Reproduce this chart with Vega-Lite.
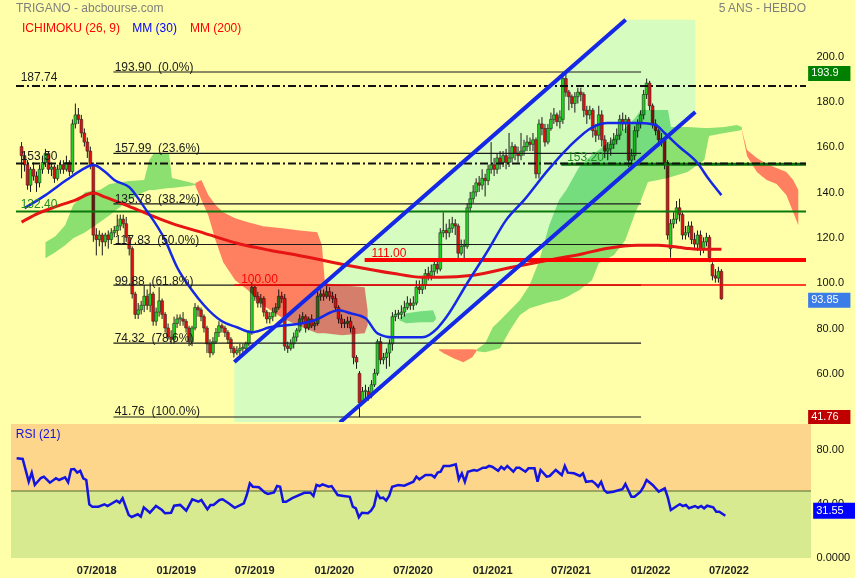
{
"$schema": "https://vega.github.io/schema/vega-lite/v6.json",
"background": "#FFFFAA",
"padding": {"left": 10, "top": 0, "right": 0, "bottom": 3},
"bounds": "flush",
"spacing": 2,
"config": {"view": {"stroke": null, "fill": "#FFFFAA"}, "font": "Liberation Sans"},
"datasets": {
"candles": [
{"d":"2017-12-29","o":161,"h":163,"l":147,"c":157},
{"d":"2018-01-05","o":157,"h":159,"l":150,"c":153},
{"d":"2018-01-12","o":153,"h":155,"l":142,"c":144},
{"d":"2018-01-19","o":144,"h":152,"l":141,"c":151},
{"d":"2018-01-26","o":151,"h":154,"l":146,"c":148},
{"d":"2018-02-02","o":148,"h":150,"l":141,"c":145},
{"d":"2018-02-09","o":145,"h":153,"l":143,"c":151},
{"d":"2018-02-16","o":151,"h":157,"l":149,"c":154},
{"d":"2018-02-23","o":154,"h":160,"l":152,"c":158},
{"d":"2018-03-02","o":158,"h":159,"l":149,"c":151},
{"d":"2018-03-09","o":151,"h":154,"l":148,"c":152},
{"d":"2018-03-16","o":152,"h":153,"l":145,"c":147},
{"d":"2018-03-23","o":147,"h":153,"l":146,"c":151},
{"d":"2018-03-30","o":151,"h":155,"l":149,"c":153},
{"d":"2018-04-06","o":153,"h":155,"l":149,"c":151},
{"d":"2018-04-13","o":151,"h":157,"l":150,"c":154},
{"d":"2018-04-20","o":154,"h":155,"l":148,"c":150},
{"d":"2018-04-27","o":150,"h":173,"l":149,"c":171},
{"d":"2018-05-04","o":171,"h":180,"l":169,"c":175},
{"d":"2018-05-11","o":175,"h":178,"l":171,"c":173},
{"d":"2018-05-18","o":173,"h":175,"l":165,"c":167},
{"d":"2018-05-25","o":167,"h":169,"l":161,"c":163},
{"d":"2018-06-01","o":163,"h":165,"l":156,"c":159},
{"d":"2018-06-08","o":159,"h":161,"l":151,"c":153},
{"d":"2018-06-15","o":153,"h":154,"l":119,"c":122},
{"d":"2018-06-22","o":122,"h":125,"l":113,"c":120},
{"d":"2018-06-29","o":120,"h":124,"l":117,"c":122},
{"d":"2018-07-06","o":122,"h":123,"l":113,"c":119},
{"d":"2018-07-13","o":119,"h":123,"l":117,"c":122},
{"d":"2018-07-20","o":122,"h":124,"l":116,"c":120},
{"d":"2018-07-27","o":120,"h":125,"l":118,"c":123},
{"d":"2018-08-03","o":123,"h":126,"l":121,"c":124},
{"d":"2018-08-10","o":124,"h":131,"l":122,"c":126},
{"d":"2018-08-17","o":126,"h":131,"l":124,"c":129},
{"d":"2018-08-24","o":129,"h":131,"l":125,"c":127},
{"d":"2018-08-31","o":127,"h":130,"l":119,"c":121},
{"d":"2018-09-07","o":121,"h":122,"l":113,"c":116},
{"d":"2018-09-14","o":116,"h":117,"l":94,"c":96},
{"d":"2018-09-21","o":96,"h":97,"l":85,"c":87},
{"d":"2018-09-28","o":87,"h":92,"l":85,"c":89},
{"d":"2018-10-05","o":89,"h":93,"l":87,"c":91},
{"d":"2018-10-12","o":91,"h":100,"l":88,"c":95},
{"d":"2018-10-19","o":95,"h":98,"l":89,"c":91},
{"d":"2018-10-26","o":91,"h":101,"l":88,"c":96},
{"d":"2018-11-02","o":96,"h":97,"l":82,"c":84},
{"d":"2018-11-09","o":84,"h":90,"l":82,"c":88},
{"d":"2018-11-16","o":88,"h":99,"l":86,"c":93},
{"d":"2018-11-23","o":93,"h":94,"l":85,"c":87},
{"d":"2018-11-30","o":87,"h":88,"l":79,"c":81},
{"d":"2018-12-07","o":81,"h":83,"l":76,"c":77},
{"d":"2018-12-14","o":77,"h":80,"l":74,"c":76},
{"d":"2018-12-21","o":76,"h":86,"l":74,"c":83},
{"d":"2018-12-28","o":83,"h":87,"l":81,"c":85},
{"d":"2019-01-04","o":85,"h":87,"l":82,"c":85.5},
{"d":"2019-01-11","o":85,"h":88,"l":82,"c":84},
{"d":"2019-01-18","o":84,"h":85,"l":79,"c":81},
{"d":"2019-01-25","o":81,"h":82,"l":73,"c":75},
{"d":"2019-02-01","o":75,"h":82,"l":73,"c":81},
{"d":"2019-02-08","o":81,"h":92,"l":80,"c":90},
{"d":"2019-02-15","o":90,"h":91,"l":86,"c":89},
{"d":"2019-02-22","o":89,"h":90,"l":84,"c":86},
{"d":"2019-03-01","o":86,"h":87,"l":79,"c":81},
{"d":"2019-03-08","o":81,"h":82,"l":70,"c":74},
{"d":"2019-03-15","o":74,"h":76,"l":68,"c":70},
{"d":"2019-03-22","o":70,"h":77,"l":69,"c":75},
{"d":"2019-03-29","o":75,"h":81,"l":74,"c":79},
{"d":"2019-04-05","o":79,"h":84,"l":77,"c":82},
{"d":"2019-04-12","o":82,"h":83,"l":79,"c":81},
{"d":"2019-04-19","o":81,"h":82,"l":77,"c":79},
{"d":"2019-04-26","o":79,"h":80,"l":74,"c":76},
{"d":"2019-05-03","o":76,"h":77,"l":70,"c":72},
{"d":"2019-05-10","o":72,"h":73,"l":68,"c":70},
{"d":"2019-05-17","o":70,"h":73,"l":69,"c":71},
{"d":"2019-05-24","o":71,"h":74,"l":69,"c":72},
{"d":"2019-05-31","o":72,"h":74,"l":70,"c":72.5},
{"d":"2019-06-07","o":72,"h":75,"l":71,"c":74},
{"d":"2019-06-14","o":74,"h":80,"l":73,"c":79},
{"d":"2019-06-21","o":79,"h":101,"l":78,"c":99},
{"d":"2019-06-28","o":99,"h":100,"l":93,"c":95},
{"d":"2019-07-05","o":95,"h":97,"l":90,"c":92},
{"d":"2019-07-12","o":92,"h":96,"l":90,"c":94},
{"d":"2019-07-19","o":94,"h":95,"l":86,"c":88},
{"d":"2019-07-26","o":88,"h":89,"l":83,"c":85},
{"d":"2019-08-02","o":85,"h":88,"l":83,"c":86},
{"d":"2019-08-09","o":86,"h":90,"l":84,"c":88},
{"d":"2019-08-16","o":88,"h":92,"l":86,"c":90},
{"d":"2019-08-23","o":90,"h":98,"l":89,"c":95},
{"d":"2019-08-30","o":95,"h":97,"l":92,"c":94},
{"d":"2019-09-06","o":94,"h":96,"l":71,"c":73},
{"d":"2019-09-13","o":73,"h":75,"l":70,"c":72},
{"d":"2019-09-20","o":72,"h":76,"l":71,"c":74},
{"d":"2019-09-27","o":74,"h":79,"l":72,"c":77},
{"d":"2019-10-04","o":77,"h":81,"l":75,"c":80},
{"d":"2019-10-11","o":80,"h":87,"l":79,"c":85},
{"d":"2019-10-18","o":85,"h":88,"l":83,"c":86},
{"d":"2019-10-25","o":86,"h":87,"l":79,"c":81},
{"d":"2019-11-01","o":81,"h":86,"l":80,"c":85},
{"d":"2019-11-08","o":85,"h":87,"l":81,"c":82},
{"d":"2019-11-15","o":82,"h":85,"l":80,"c":83},
{"d":"2019-11-22","o":83,"h":97,"l":82,"c":95},
{"d":"2019-11-29","o":95,"h":98,"l":93,"c":96},
{"d":"2019-12-06","o":96,"h":98,"l":93,"c":95},
{"d":"2019-12-13","o":95,"h":101,"l":94,"c":97},
{"d":"2019-12-20","o":97,"h":99,"l":93,"c":95},
{"d":"2019-12-27","o":95,"h":97,"l":92,"c":94},
{"d":"2020-01-03","o":94,"h":96,"l":88,"c":90},
{"d":"2020-01-10","o":90,"h":91,"l":83,"c":85},
{"d":"2020-01-17","o":85,"h":87,"l":81,"c":83},
{"d":"2020-01-24","o":83,"h":85,"l":81,"c":83.5},
{"d":"2020-01-31","o":83,"h":86,"l":81,"c":84},
{"d":"2020-02-07","o":84,"h":86,"l":79,"c":81},
{"d":"2020-02-14","o":81,"h":82,"l":65,"c":68},
{"d":"2020-02-21","o":68,"h":69,"l":63,"c":66},
{"d":"2020-02-28","o":61,"h":62,"l":41.76,"c":48},
{"d":"2020-03-06","o":49,"h":55,"l":47,"c":53},
{"d":"2020-03-13","o":53,"h":56,"l":50,"c":53.5},
{"d":"2020-03-20","o":53,"h":55,"l":49,"c":51},
{"d":"2020-03-27","o":51,"h":58,"l":50,"c":56},
{"d":"2020-04-03","o":56,"h":63,"l":55,"c":61},
{"d":"2020-04-10","o":61,"h":76,"l":60,"c":75},
{"d":"2020-04-17","o":75,"h":77,"l":65,"c":67},
{"d":"2020-04-24","o":67,"h":70,"l":65,"c":68},
{"d":"2020-05-01","o":68,"h":72,"l":63,"c":70},
{"d":"2020-05-08","o":70,"h":76,"l":64,"c":74},
{"d":"2020-05-15","o":74,"h":88,"l":71,"c":86},
{"d":"2020-05-22","o":86,"h":89,"l":84,"c":87},
{"d":"2020-05-29","o":87,"h":89,"l":85,"c":87.5},
{"d":"2020-06-05","o":87,"h":91,"l":85,"c":88},
{"d":"2020-06-12","o":88,"h":93,"l":86,"c":90},
{"d":"2020-06-19","o":90,"h":95,"l":89,"c":92},
{"d":"2020-06-26","o":92,"h":94,"l":89,"c":91},
{"d":"2020-07-03","o":91,"h":95,"l":89,"c":92},
{"d":"2020-07-10","o":92,"h":102,"l":91,"c":99},
{"d":"2020-07-17","o":99,"h":102,"l":96,"c":98},
{"d":"2020-07-24","o":98,"h":104,"l":96,"c":100},
{"d":"2020-07-31","o":100,"h":107,"l":98,"c":105},
{"d":"2020-08-07","o":105,"h":108,"l":102,"c":104},
{"d":"2020-08-14","o":104,"h":109,"l":102,"c":106},
{"d":"2020-08-21","o":106,"h":111,"l":104,"c":109},
{"d":"2020-08-28","o":109,"h":111,"l":105,"c":107},
{"d":"2020-09-04","o":107,"h":125,"l":106,"c":123},
{"d":"2020-09-11","o":123,"h":132,"l":121,"c":124},
{"d":"2020-09-18","o":124,"h":127,"l":120,"c":123},
{"d":"2020-09-25","o":123,"h":129,"l":121,"c":125},
{"d":"2020-10-02","o":125,"h":130,"l":123,"c":127},
{"d":"2020-10-09","o":127,"h":129,"l":122,"c":126},
{"d":"2020-10-16","o":126,"h":127,"l":111,"c":114},
{"d":"2020-10-23","o":114,"h":120,"l":113,"c":117},
{"d":"2020-10-30","o":117,"h":120,"l":111,"c":117.5},
{"d":"2020-11-06","o":117,"h":136,"l":116,"c":134},
{"d":"2020-11-13","o":134,"h":141,"l":132,"c":138},
{"d":"2020-11-20","o":138,"h":144,"l":136,"c":141},
{"d":"2020-11-27","o":141,"h":147,"l":139,"c":145},
{"d":"2020-12-04","o":145,"h":148,"l":141,"c":144},
{"d":"2020-12-11","o":144,"h":151,"l":142,"c":147},
{"d":"2020-12-18","o":147,"h":149,"l":139,"c":146},
{"d":"2020-12-25","o":146,"h":153,"l":144,"c":151},
{"d":"2021-01-01","o":151,"h":163,"l":149,"c":153},
{"d":"2021-01-08","o":153,"h":156,"l":148,"c":151},
{"d":"2021-01-15","o":151,"h":158,"l":149,"c":156},
{"d":"2021-01-22","o":156,"h":159,"l":151,"c":154},
{"d":"2021-01-29","o":154,"h":159,"l":152,"c":157},
{"d":"2021-02-05","o":157,"h":160,"l":151,"c":154},
{"d":"2021-02-12","o":154,"h":167,"l":152,"c":156},
{"d":"2021-02-19","o":156,"h":163,"l":154,"c":161},
{"d":"2021-02-26","o":161,"h":162,"l":155,"c":158},
{"d":"2021-03-05","o":158,"h":161,"l":154,"c":157},
{"d":"2021-03-12","o":157,"h":167,"l":155,"c":159},
{"d":"2021-03-19","o":159,"h":164,"l":157,"c":161},
{"d":"2021-03-26","o":161,"h":166,"l":159,"c":163},
{"d":"2021-04-02","o":163,"h":165,"l":159,"c":162},
{"d":"2021-04-09","o":162,"h":167,"l":159,"c":164},
{"d":"2021-04-16","o":164,"h":165,"l":147,"c":149},
{"d":"2021-04-23","o":149,"h":173,"l":147,"c":171},
{"d":"2021-04-30","o":171,"h":174,"l":166,"c":169},
{"d":"2021-05-07","o":169,"h":171,"l":161,"c":163},
{"d":"2021-05-14","o":163,"h":171,"l":162,"c":169},
{"d":"2021-05-21","o":169,"h":176,"l":168,"c":173},
{"d":"2021-05-28","o":173,"h":178,"l":171,"c":175},
{"d":"2021-06-04","o":175,"h":176,"l":170,"c":172},
{"d":"2021-06-11","o":172,"h":177,"l":169,"c":174},
{"d":"2021-06-18","o":173,"h":193.9,"l":171,"c":191},
{"d":"2021-06-25","o":191,"h":193,"l":183,"c":185},
{"d":"2021-07-02","o":185,"h":186,"l":177,"c":183},
{"d":"2021-07-09","o":183,"h":184,"l":178,"c":180},
{"d":"2021-07-16","o":180,"h":185,"l":176,"c":183},
{"d":"2021-07-23","o":183,"h":187,"l":180,"c":185},
{"d":"2021-07-30","o":185,"h":187,"l":181,"c":184},
{"d":"2021-08-06","o":184,"h":185,"l":174,"c":177},
{"d":"2021-08-13","o":177,"h":179,"l":171,"c":175},
{"d":"2021-08-20","o":175,"h":179,"l":173,"c":177},
{"d":"2021-08-27","o":177,"h":178,"l":165,"c":168},
{"d":"2021-09-03","o":168,"h":171,"l":163,"c":166},
{"d":"2021-09-10","o":166,"h":179,"l":164,"c":175},
{"d":"2021-09-17","o":175,"h":177,"l":161,"c":164},
{"d":"2021-09-24","o":164,"h":166,"l":156,"c":159},
{"d":"2021-10-01","o":159,"h":163,"l":155,"c":160},
{"d":"2021-10-08","o":160,"h":165,"l":157,"c":162},
{"d":"2021-10-15","o":162,"h":167,"l":160,"c":164},
{"d":"2021-10-22","o":164,"h":169,"l":162,"c":166},
{"d":"2021-10-29","o":166,"h":175,"l":164,"c":173},
{"d":"2021-11-05","o":173,"h":176,"l":168,"c":171},
{"d":"2021-11-12","o":171,"h":175,"l":167,"c":173},
{"d":"2021-11-19","o":173,"h":174,"l":152,"c":155},
{"d":"2021-11-26","o":155,"h":160,"l":153,"c":157},
{"d":"2021-12-03","o":157,"h":170,"l":155,"c":168},
{"d":"2021-12-10","o":168,"h":173,"l":165,"c":171},
{"d":"2021-12-17","o":171,"h":177,"l":169,"c":175},
{"d":"2021-12-24","o":175,"h":186,"l":173,"c":184},
{"d":"2021-12-31","o":184,"h":191,"l":182,"c":189},
{"d":"2022-01-07","o":189,"h":190,"l":177,"c":179},
{"d":"2022-01-14","o":179,"h":180,"l":169,"c":171},
{"d":"2022-01-21","o":171,"h":173,"l":166,"c":168},
{"d":"2022-01-28","o":168,"h":169,"l":161,"c":164},
{"d":"2022-02-04","o":164,"h":167,"l":161,"c":164.5},
{"d":"2022-02-11","o":164,"h":165,"l":151,"c":154},
{"d":"2022-02-18","o":154,"h":155,"l":120,"c":122},
{"d":"2022-02-25","o":116,"h":129,"l":112,"c":127},
{"d":"2022-03-04","o":127,"h":132,"l":125,"c":129},
{"d":"2022-03-11","o":129,"h":137,"l":127,"c":134},
{"d":"2022-03-18","o":134,"h":138,"l":128,"c":131},
{"d":"2022-03-25","o":131,"h":132,"l":120,"c":122},
{"d":"2022-04-01","o":122,"h":126,"l":120,"c":123},
{"d":"2022-04-08","o":123,"h":128,"l":121,"c":126},
{"d":"2022-04-15","o":126,"h":128,"l":118,"c":120},
{"d":"2022-04-22","o":120,"h":123,"l":116,"c":118},
{"d":"2022-04-29","o":118,"h":124,"l":115,"c":122},
{"d":"2022-05-06","o":122,"h":124,"l":113,"c":116},
{"d":"2022-05-13","o":116,"h":121,"l":114,"c":119},
{"d":"2022-05-20","o":119,"h":123,"l":117,"c":121},
{"d":"2022-05-27","o":121,"h":122,"l":110,"c":112},
{"d":"2022-06-03","o":109,"h":110,"l":102,"c":104},
{"d":"2022-06-10","o":104,"h":107,"l":101,"c":103},
{"d":"2022-06-17","o":103,"h":108,"l":101,"c":106},
{"d":"2022-06-24","o":106,"h":107,"l":93.5,"c":93.85}
],
"ma200": [
{"d":"2017-12-29","v":127.69},{"d":"2018-02-02","v":131.22},{"d":"2018-03-16","v":134.31},{"d":"2018-05-04","v":137.4},
{"d":"2018-06-15","v":140.5},{"d":"2018-07-13","v":138.73},{"d":"2018-09-28","v":132.99},{"d":"2018-12-14","v":127.25},
{"d":"2019-03-01","v":122.83},{"d":"2019-05-17","v":118.41},{"d":"2019-08-02","v":115.32},{"d":"2019-10-18","v":112.67},
{"d":"2020-01-31","v":108.7},{"d":"2020-05-15","v":105.16},{"d":"2020-07-24","v":103.4},{"d":"2020-09-04","v":103.4},
{"d":"2020-11-20","v":104.28},{"d":"2021-02-19","v":107.81},{"d":"2021-05-14","v":110.91},{"d":"2021-07-30","v":113.56},
{"d":"2021-10-01","v":116.21},{"d":"2021-12-10","v":117.53},{"d":"2022-01-28","v":117.53},{"d":"2022-04-01","v":116.21},
{"d":"2022-04-29","v":115.77},{"d":"2022-06-24","v":115.77}
],
"ma30": [
{"d":"2018-01-05","v":133.87},{"d":"2018-02-23","v":139.61},{"d":"2018-04-13","v":146.24},{"d":"2018-05-18","v":150.65},
{"d":"2018-06-15","v":152.86},{"d":"2018-07-13","v":149.77},{"d":"2018-08-03","v":146.24},{"d":"2018-09-07","v":143.15},
{"d":"2018-10-12","v":134.31},{"d":"2018-11-30","v":119.74},{"d":"2018-12-28","v":107.81},{"d":"2019-02-01","v":97.66},
{"d":"2019-03-01","v":91.03},{"d":"2019-04-12","v":83.96},{"d":"2019-05-17","v":81.32},{"d":"2019-06-21","v":79.11},
{"d":"2019-08-02","v":81.32},{"d":"2019-10-18","v":83.08},{"d":"2019-11-15","v":84.41},{"d":"2020-01-10","v":88.82},
{"d":"2020-02-07","v":87.5},{"d":"2020-03-13","v":85.29},{"d":"2020-04-10","v":78.67},{"d":"2020-05-15","v":76.91},
{"d":"2020-07-24","v":76.91},{"d":"2020-08-28","v":80.87},{"d":"2020-09-18","v":85.73},{"d":"2020-11-06","v":100.75},
{"d":"2020-12-25","v":115.32},{"d":"2021-02-05","v":128.57},{"d":"2021-03-19","v":137.4},{"d":"2021-05-14","v":150.65},
{"d":"2021-07-02","v":160.81},{"d":"2021-08-27","v":169.64},{"d":"2021-10-01","v":171.41},{"d":"2021-12-17","v":171.41},
{"d":"2022-01-21","v":170.53},{"d":"2022-02-11","v":166.99},{"d":"2022-03-18","v":160.81},{"d":"2022-04-29","v":153.74},
{"d":"2022-05-27","v":146.24},{"d":"2022-06-24","v":139.61}
],
"cloud": [
{"seg":"g1","k":"up","d":"2018-02-23","a":118.85,"b":111.79},
{"seg":"g1","k":"up","d":"2018-03-18","a":121.5,"b":114.44},
{"seg":"g1","k":"up","d":"2018-04-10","a":126.36,"b":117.53},
{"seg":"g1","k":"up","d":"2018-04-29","a":135.2,"b":120.62},
{"seg":"g1","k":"up","d":"2018-05-27","a":140.94,"b":123.27},
{"seg":"g1","k":"up","d":"2018-06-30","a":141.82,"b":127.69},
{"seg":"g1","k":"up","d":"2018-07-23","a":144.47,"b":130.78},
{"seg":"g1","k":"up","d":"2018-09-07","a":145.79,"b":137.4},
{"seg":"g1","k":"up","d":"2018-10-12","a":146.24,"b":140.94},
{"seg":"g1","k":"up","d":"2018-10-24","a":155.07,"b":141.82},
{"seg":"g1","k":"up","d":"2018-11-04","a":158.16,"b":141.82},
{"seg":"g1","k":"up","d":"2018-12-09","a":158.16,"b":142.7},
{"seg":"g1","k":"up","d":"2018-12-16","a":147.12,"b":142.7},
{"seg":"g1","k":"up","d":"2019-01-24","a":145.35,"b":143.59},
{"seg":"g1","k":"up","d":"2019-02-09","a":144.47,"b":144.03},
{"seg":"s1","k":"down","d":"2019-02-09","a":144.91,"b":143.59},
{"seg":"s1","k":"down","d":"2019-02-23","a":146.24,"b":137.4},
{"seg":"s1","k":"down","d":"2019-03-11","a":139.61,"b":130.78},
{"seg":"s1","k":"down","d":"2019-03-28","a":135.2,"b":119.74},
{"seg":"s1","k":"down","d":"2019-04-15","a":132.1,"b":110.02},
{"seg":"s1","k":"down","d":"2019-05-13","a":129.45,"b":102.07},
{"seg":"s1","k":"down","d":"2019-06-12","a":127.69,"b":97.66},
{"seg":"s1","k":"down","d":"2019-07-17","a":125.92,"b":91.03},
{"seg":"s1","k":"down","d":"2019-09-01","a":125.04,"b":85.29},
{"seg":"s1","k":"down","d":"2019-10-06","a":124.15,"b":82.2},
{"seg":"s1","k":"down","d":"2019-11-21","a":123.27,"b":78.67},
{"seg":"s1","k":"down","d":"2019-12-02","a":117.53,"b":78.67},
{"seg":"s1","k":"down","d":"2019-12-09","a":100.75,"b":78.67},
{"seg":"s1","k":"down","d":"2020-01-18","a":99.87,"b":77.78},
{"seg":"s1","k":"down","d":"2020-03-11","a":98.98,"b":78.67},
{"seg":"s1","k":"down","d":"2020-03-18","a":88.82,"b":82.2},
{"seg":"g2","k":"up","d":"2020-05-31","a":85.29,"b":84.41},
{"seg":"g2","k":"up","d":"2020-06-16","a":87.5,"b":83.08},
{"seg":"g2","k":"up","d":"2020-07-21","a":88.38,"b":83.52},
{"seg":"g2","k":"up","d":"2020-08-18","a":88.82,"b":83.52},
{"seg":"g2","k":"up","d":"2020-08-25","a":85.5,"b":85.0},
{"seg":"s2","k":"down","d":"2020-09-01","a":71.6,"b":71.16},
{"seg":"s2","k":"down","d":"2020-09-12","a":71.6,"b":69.83},
{"seg":"s2","k":"down","d":"2020-10-05","a":71.6,"b":67.62},
{"seg":"s2","k":"down","d":"2020-10-28","a":71.6,"b":65.86},
{"seg":"s2","k":"down","d":"2020-11-18","a":71.6,"b":68.07},
{"seg":"s2","k":"down","d":"2020-11-29","a":71.38,"b":71.16},
{"seg":"g3","k":"up","d":"2020-11-29","a":71.6,"b":70.72},
{"seg":"g3","k":"up","d":"2020-12-18","a":74.25,"b":70.27},
{"seg":"g3","k":"up","d":"2021-01-05","a":81.32,"b":71.16},
{"seg":"g3","k":"up","d":"2021-01-22","a":84.41,"b":72.04},
{"seg":"g3","k":"up","d":"2021-02-14","a":88.82,"b":79.99},
{"seg":"g3","k":"up","d":"2021-03-09","a":93.24,"b":86.62},
{"seg":"g3","k":"up","d":"2021-04-01","a":99.87,"b":89.71},
{"seg":"g3","k":"up","d":"2021-04-24","a":110.91,"b":91.03},
{"seg":"g3","k":"up","d":"2021-05-17","a":126.36,"b":92.36},
{"seg":"g3","k":"up","d":"2021-06-09","a":137.4,"b":93.24},
{"seg":"g3","k":"up","d":"2021-06-26","a":141.82,"b":94.57},
{"seg":"g3","k":"up","d":"2021-07-26","a":151.98,"b":97.66},
{"seg":"g3","k":"up","d":"2021-08-25","a":157.28,"b":102.07},
{"seg":"g3","k":"up","d":"2021-09-10","a":159.5,"b":109.58},
{"seg":"g3","k":"up","d":"2021-10-15","a":164.8,"b":113.11},
{"seg":"g3","k":"up","d":"2021-11-11","a":169.2,"b":119.74},
{"seg":"g3","k":"up","d":"2021-12-04","a":173.6,"b":131.66},
{"seg":"g3","k":"up","d":"2021-12-18","a":177.2,"b":137.4},
{"seg":"g3","k":"up","d":"2022-01-03","a":177.15,"b":145.35},
{"seg":"g3","k":"up","d":"2022-02-19","a":177.15,"b":147.12},
{"seg":"g3","k":"up","d":"2022-02-26","a":169.64,"b":147.56},
{"seg":"g3","k":"up","d":"2022-04-06","a":169.64,"b":149.77},
{"seg":"g3","k":"up","d":"2022-05-15","a":169.2,"b":155.07},
{"seg":"g3","k":"up","d":"2022-05-26","a":169.2,"b":165.67},
{"seg":"g3","k":"up","d":"2022-07-01","a":169.64,"b":166.99},
{"seg":"g3","k":"up","d":"2022-07-30","a":170.53,"b":167.88},
{"seg":"g3","k":"up","d":"2022-08-11","a":169.64,"b":168.32},
{"seg":"s3","k":"down","d":"2022-08-11","a":168.32,"b":167.88},
{"seg":"s3","k":"down","d":"2022-08-23","a":159.49,"b":156.84},
{"seg":"s3","k":"down","d":"2022-09-15","a":155.95,"b":149.77},
{"seg":"s3","k":"down","d":"2022-10-08","a":153.3,"b":146.24},
{"seg":"s3","k":"down","d":"2022-10-31","a":151.54,"b":144.47},
{"seg":"s3","k":"down","d":"2022-11-23","a":149.77,"b":139.61},
{"seg":"s3","k":"down","d":"2022-12-09","a":146.24,"b":132.1},
{"seg":"s3","k":"down","d":"2022-12-21","a":141.82,"b":126.36}
],
"chan": [
{"d":"2019-05-11","a":66.0,"b":-1.37},
{"d":"2021-11-12","a":216.9,"b":149.4},
{"d":"2022-04-24","a":216.9,"b":176.26}
],
"chl": [
{"seg":"u","d":"2019-05-11","v":66.0},{"seg":"u","d":"2021-11-12","v":216.9},
{"seg":"l","d":"2020-01-13","v":39.33},{"seg":"l","d":"2022-04-24","v":176.26}
],
"fib": [
{"d":"2018-08-01","d2":"2021-12-18","v":193.9},
{"d":"2018-08-01","d2":"2021-12-18","v":157.99},
{"d":"2018-08-01","d2":"2021-12-18","v":135.78},
{"d":"2018-08-01","d2":"2021-12-18","v":117.83},
{"d":"2018-08-01","d2":"2021-12-18","v":99.88},
{"d":"2018-08-01","d2":"2021-12-18","v":74.32},
{"d":"2018-08-01","d2":"2021-12-18","v":41.76}
],
"txt": [
{"g":"dark","d":"2018-08-04","v":195.9,"t":"193.90 \u00a0(0.0%)"},
{"g":"dark","d":"2018-08-04","v":160.6,"t":"157.99 \u00a0(23.6%)"},
{"g":"dark","d":"2018-08-04","v":137.9,"t":"135.78 \u00a0(38.2%)"},
{"g":"dark","d":"2018-08-04","v":120.0,"t":"117.83 \u00a0(50.0%)"},
{"g":"dark","d":"2018-08-04","v":101.7,"t":"99.88 \u00a0(61.8%)"},
{"g":"dark","d":"2018-08-04","v":76.8,"t":"74.32 \u00a0(78.6%)"},
{"g":"dark","d":"2018-08-04","v":44.4,"t":"41.76 \u00a0(100.0%)"},
{"g":"dark","d":"2017-12-27","v":191.5,"t":"187.74"},
{"g":"dark","d":"2017-12-27","v":156.9,"t":"153.50"},
{"g":"green","d":"2017-12-27","v":135.7,"t":"132.40"},
{"g":"green","d":"2021-06-28","v":156.4,"t":"153.20"},
{"g":"red","d":"2019-05-27","v":102.6,"t":"100.00"},
{"g":"red","d":"2020-03-27","v":114.1,"t":"111.00"},
{"g":"title","d":"2017-12-16","v":222.1,"t":"TRIGANO - abcbourse.com"},
{"g":"titleR","d":"2023-01-08","v":222.1,"t":"5 ANS - HEBDO"},
{"g":"legR","d":"2017-12-30","v":213.3,"t":"ICHIMOKU (26, 9)"},
{"g":"legR","d":"2019-01-27","v":213.3,"t":"MM (200)"},
{"g":"legB","d":"2018-09-14","v":213.3,"t":"MM (30)"},
{"g":"badge","d":"2023-01-20","v":193.24,"t":"193.9"},
{"g":"badge","d":"2023-01-20","v":93.27,"t":"93.85"},
{"g":"badge","d":"2023-01-20","v":41.76,"t":"41.76"}
],
"rsi": [
{"d":"2017-12-29","v":74.4},{"d":"2018-01-12","v":73.9},{"d":"2018-01-26","v":57.0},{"d":"2018-02-02","v":63.7},
{"d":"2018-02-09","v":54.5},{"d":"2018-02-23","v":59.7},{"d":"2018-03-02","v":60.7},{"d":"2018-03-16","v":56.2},
{"d":"2018-03-30","v":59.5},{"d":"2018-04-06","v":58.2},{"d":"2018-04-20","v":60.2},{"d":"2018-04-27","v":56.5},
{"d":"2018-05-04","v":66.2},{"d":"2018-05-11","v":66.4},{"d":"2018-05-18","v":63.7},{"d":"2018-05-25","v":65.1},
{"d":"2018-06-01","v":59.5},{"d":"2018-06-08","v":58.2},{"d":"2018-06-15","v":40.0},{"d":"2018-06-22","v":38.3},
{"d":"2018-07-06","v":38.3},{"d":"2018-07-20","v":40.1},{"d":"2018-07-27","v":38.8},{"d":"2018-08-17","v":42.8},
{"d":"2018-08-24","v":41.3},{"d":"2018-08-31","v":44.6},{"d":"2018-09-14","v":32.1},{"d":"2018-09-21","v":30.6},
{"d":"2018-10-05","v":32.6},{"d":"2018-10-12","v":30.8},{"d":"2018-10-19","v":37.8},{"d":"2018-11-02","v":33.8},
{"d":"2018-11-16","v":38.8},{"d":"2018-11-30","v":35.8},{"d":"2018-12-07","v":33.4},{"d":"2018-12-21","v":33.8},
{"d":"2018-12-28","v":39.0},{"d":"2019-01-11","v":39.6},{"d":"2019-01-25","v":35.3},{"d":"2019-02-08","v":43.8},
{"d":"2019-02-22","v":42.0},{"d":"2019-03-01","v":43.3},{"d":"2019-03-15","v":36.3},{"d":"2019-03-22","v":39.6},
{"d":"2019-03-29","v":39.6},{"d":"2019-04-12","v":43.3},{"d":"2019-04-19","v":43.8},{"d":"2019-05-03","v":40.8},
{"d":"2019-05-17","v":37.5},{"d":"2019-06-07","v":40.8},{"d":"2019-06-14","v":47.0},{"d":"2019-06-21","v":55.7},
{"d":"2019-06-28","v":53.2},{"d":"2019-07-12","v":52.8},{"d":"2019-07-26","v":48.7},{"d":"2019-08-02","v":47.8},
{"d":"2019-08-16","v":49.0},{"d":"2019-08-23","v":53.7},{"d":"2019-08-30","v":53.2},{"d":"2019-09-06","v":42.0},
{"d":"2019-09-13","v":42.0},{"d":"2019-09-27","v":44.6},{"d":"2019-10-25","v":48.7},{"d":"2019-11-08","v":48.7},
{"d":"2019-11-15","v":46.3},{"d":"2019-11-22","v":54.5},{"d":"2019-11-29","v":53.7},{"d":"2019-12-06","v":55.0},
{"d":"2019-12-20","v":53.2},{"d":"2019-12-27","v":53.7},{"d":"2020-01-10","v":47.0},{"d":"2020-01-24","v":46.3},
{"d":"2020-02-07","v":45.7},{"d":"2020-02-14","v":38.3},{"d":"2020-02-21","v":37.1},{"d":"2020-02-28","v":30.4},
{"d":"2020-03-06","v":33.8},{"d":"2020-03-20","v":33.4},{"d":"2020-03-27","v":35.3},{"d":"2020-04-03","v":38.8},
{"d":"2020-04-10","v":48.7},{"d":"2020-04-17","v":44.6},{"d":"2020-04-24","v":45.0},{"d":"2020-05-01","v":42.8},
{"d":"2020-05-08","v":46.3},{"d":"2020-05-15","v":53.2},{"d":"2020-05-29","v":54.5},{"d":"2020-06-12","v":54.0},
{"d":"2020-07-03","v":56.9},{"d":"2020-07-10","v":60.7},{"d":"2020-07-17","v":58.7},{"d":"2020-07-31","v":61.9},
{"d":"2020-08-14","v":61.9},{"d":"2020-08-21","v":60.2},{"d":"2020-08-28","v":63.7},{"d":"2020-09-04","v":64.4},
{"d":"2020-09-11","v":68.7},{"d":"2020-09-25","v":68.7},{"d":"2020-10-09","v":69.9},{"d":"2020-10-16","v":58.7},
{"d":"2020-10-23","v":63.2},{"d":"2020-10-30","v":56.9},{"d":"2020-11-06","v":64.4},{"d":"2020-11-20","v":65.7},
{"d":"2020-11-27","v":65.1},{"d":"2020-12-11","v":67.4},{"d":"2020-12-18","v":67.4},{"d":"2020-12-25","v":68.7},
{"d":"2021-01-01","v":68.1},{"d":"2021-01-15","v":65.1},{"d":"2021-01-22","v":68.1},{"d":"2021-01-29","v":66.2},
{"d":"2021-02-05","v":68.7},{"d":"2021-02-19","v":64.4},{"d":"2021-02-26","v":67.4},{"d":"2021-03-05","v":67.4},
{"d":"2021-03-19","v":64.4},{"d":"2021-03-26","v":66.9},{"d":"2021-04-09","v":66.9},{"d":"2021-04-16","v":56.9},
{"d":"2021-04-23","v":65.7},{"d":"2021-05-07","v":60.7},{"d":"2021-05-14","v":61.2},{"d":"2021-05-28","v":65.7},
{"d":"2021-06-11","v":61.9},{"d":"2021-06-18","v":68.7},{"d":"2021-06-25","v":63.7},{"d":"2021-07-09","v":63.2},
{"d":"2021-07-23","v":61.2},{"d":"2021-07-30","v":63.2},{"d":"2021-08-06","v":56.9},{"d":"2021-08-20","v":57.5},
{"d":"2021-08-27","v":55.7},{"d":"2021-09-03","v":53.2},{"d":"2021-09-10","v":56.9},{"d":"2021-09-17","v":50.7},
{"d":"2021-09-24","v":48.7},{"d":"2021-10-08","v":49.5},{"d":"2021-10-22","v":50.7},{"d":"2021-10-29","v":51.3},
{"d":"2021-11-05","v":55.2},{"d":"2021-11-19","v":45.7},{"d":"2021-11-26","v":45.7},{"d":"2021-12-10","v":49.5},
{"d":"2021-12-17","v":53.2},{"d":"2021-12-24","v":58.2},{"d":"2022-01-07","v":54.5},{"d":"2022-01-21","v":49.5},
{"d":"2022-02-04","v":52.0},{"d":"2022-02-11","v":45.3},{"d":"2022-02-18","v":35.8},{"d":"2022-03-04","v":38.8},
{"d":"2022-03-11","v":40.1},{"d":"2022-03-18","v":38.8},{"d":"2022-03-25","v":39.6},{"d":"2022-04-01","v":37.1},
{"d":"2022-04-15","v":38.8},{"d":"2022-04-22","v":37.5},{"d":"2022-04-29","v":38.8},{"d":"2022-05-06","v":37.1},
{"d":"2022-05-13","v":39.0},{"d":"2022-05-27","v":37.8},{"d":"2022-06-03","v":34.6},{"d":"2022-06-10","v":34.6},
{"d":"2022-06-24","v":31.55}
]
},
"vconcat": [
{
"width": 800, "height": 422,
"encoding": {"x": {"field": "d", "type": "temporal", "scale": {"type": "utc", "domain": [{"year": 2017, "month": 12, "date": 16, "utc": true}, {"year": 2023, "month": 1, "date": 8, "utc": true}]}, "axis": null}},
"layer": [
{"data": {"name": "chan"}, "mark": {"type": "area", "color": "#D6FCC0", "clip": true},
 "encoding": {"y": {"field": "a", "type": "quantitative", "scale": {"domain": [39.55, 225.65], "nice": false, "zero": false},
   "axis": {"orient": "right", "values": [60, 80, 100, 120, 140, 160, 180, 200], "labelExpr": "datum.value >= 100 ? format(datum.value, '.1f') : format(datum.value, '.2f')", "domain": false, "ticks": false, "grid": false, "labelPadding": 5, "labelFontSize": 11, "labelColor": "#111111", "labelOffset": -2, "title": null}},
  "y2": {"field": "b"}}},
{"data": {"name": "candles"}, "mark": {"type": "rule", "color": "#1a1a1a", "strokeWidth": 1},
 "encoding": {"y": {"field": "l", "type": "quantitative", "scale": {"domain": [39.55, 225.65], "nice": false, "zero": false}}, "y2": {"field": "h"}}},
{"data": {"name": "candles"}, "mark": {"type": "bar", "size": 2.8, "stroke": "#2a2a2a", "strokeWidth": 0.6},
 "encoding": {"y": {"field": "o", "type": "quantitative", "scale": {"domain": [39.55, 225.65], "nice": false, "zero": false}}, "y2": {"field": "c"},
  "color": {"condition": {"test": "datum.c >= datum.o", "value": "#1FD21F"}, "value": "#E01010"}}},
{"data": {"name": "cloud"}, "mark": {"type": "area", "blend": "multiply"},
 "encoding": {"y": {"field": "a", "type": "quantitative", "scale": {"domain": [39.55, 225.65], "nice": false, "zero": false}}, "y2": {"field": "b"},
  "color": {"field": "k", "type": "nominal", "scale": {"domain": ["up", "down"], "range": ["#8CE0A8", "#FF8090"]}, "legend": null},
  "detail": {"field": "seg"}}},
{"data": {"name": "fib"}, "mark": {"type": "rule", "color": "#1a1a1a", "strokeWidth": 1.2},
 "encoding": {"x2": {"field": "d2"}, "y": {"field": "v", "type": "quantitative", "scale": {"domain": [39.55, 225.65], "nice": false, "zero": false}}}},
{"data": {"values": [{"d": "2021-06-14", "d2": "2023-01-08", "v": 153.2}]}, "mark": {"type": "rule", "color": "#0A6E0A", "strokeWidth": 3},
 "encoding": {"x2": {"field": "d2"}, "y": {"field": "v", "type": "quantitative", "scale": {"domain": [39.55, 225.65], "nice": false, "zero": false}}}},
{"data": {"values": [{"d": "2017-12-16", "d2": "2023-01-08", "v": 132.4}]}, "mark": {"type": "rule", "color": "#0A780A", "strokeWidth": 2},
 "encoding": {"x2": {"field": "d2"}, "y": {"field": "v", "type": "quantitative", "scale": {"domain": [39.55, 225.65], "nice": false, "zero": false}}}},
{"data": {"values": [{"d": "2017-12-16", "d2": "2023-01-08", "v": 187.74}, {"d": "2017-12-16", "d2": "2023-01-08", "v": 153.5}]}, "mark": {"type": "rule", "color": "#111111", "strokeWidth": 2, "strokeDash": [8, 3, 2, 3]},
 "encoding": {"x2": {"field": "d2"}, "y": {"field": "v", "type": "quantitative", "scale": {"domain": [39.55, 225.65], "nice": false, "zero": false}}}},
{"data": {"values": [{"d": "2019-05-11", "d2": "2023-01-08", "v": 100}]}, "mark": {"type": "rule", "color": "#FF0000", "strokeWidth": 1.5},
 "encoding": {"x2": {"field": "d2"}, "y": {"field": "v", "type": "quantitative", "scale": {"domain": [39.55, 225.65], "nice": false, "zero": false}}}},
{"data": {"name": "ma200"}, "mark": {"type": "line", "color": "#E61414", "strokeWidth": 3, "interpolate": "monotone"},
 "encoding": {"y": {"field": "v", "type": "quantitative", "scale": {"domain": [39.55, 225.65], "nice": false, "zero": false}}}},
{"data": {"values": [{"d": "2020-03-11", "d2": "2023-01-08", "v": 111}]}, "mark": {"type": "rule", "color": "#FF0000", "strokeWidth": 4},
 "encoding": {"x2": {"field": "d2"}, "y": {"field": "v", "type": "quantitative", "scale": {"domain": [39.55, 225.65], "nice": false, "zero": false}}}},
{"data": {"name": "ma30"}, "mark": {"type": "line", "color": "#1428E6", "strokeWidth": 2.5, "interpolate": "monotone"},
 "encoding": {"y": {"field": "v", "type": "quantitative", "scale": {"domain": [39.55, 225.65], "nice": false, "zero": false}}}},
{"data": {"name": "chl"}, "mark": {"type": "line", "color": "#1428E6", "strokeWidth": 4, "clip": true},
 "encoding": {"y": {"field": "v", "type": "quantitative", "scale": {"domain": [39.55, 225.65], "nice": false, "zero": false}}, "detail": {"field": "seg"}}},
{"data": {"name": "txt"}, "transform": [{"filter": {"field": "g", "equal": "dark"}}], "mark": {"type": "text", "align": "left", "baseline": "middle", "fontSize": 12, "color": "#1a1a1a"},
 "encoding": {"y": {"field": "v", "type": "quantitative", "scale": {"domain": [39.55, 225.65], "nice": false, "zero": false}}, "text": {"field": "t"}}},
{"data": {"name": "txt"}, "transform": [{"filter": {"field": "g", "equal": "green"}}], "mark": {"type": "text", "align": "left", "baseline": "middle", "fontSize": 12, "color": "#228B22"},
 "encoding": {"y": {"field": "v", "type": "quantitative", "scale": {"domain": [39.55, 225.65], "nice": false, "zero": false}}, "text": {"field": "t"}}},
{"data": {"name": "txt"}, "transform": [{"filter": {"field": "g", "equal": "red"}}], "mark": {"type": "text", "align": "left", "baseline": "middle", "fontSize": 12, "color": "#FF0000"},
 "encoding": {"y": {"field": "v", "type": "quantitative", "scale": {"domain": [39.55, 225.65], "nice": false, "zero": false}}, "text": {"field": "t"}}},
{"data": {"name": "txt"}, "transform": [{"filter": {"field": "g", "equal": "title"}}], "mark": {"type": "text", "align": "left", "baseline": "middle", "fontSize": 12, "color": "#7F7F7F"},
 "encoding": {"y": {"field": "v", "type": "quantitative", "scale": {"domain": [39.55, 225.65], "nice": false, "zero": false}}, "text": {"field": "t"}}},
{"data": {"name": "txt"}, "transform": [{"filter": {"field": "g", "equal": "titleR"}}], "mark": {"type": "text", "align": "right", "baseline": "middle", "fontSize": 12, "color": "#7F7F7F"},
 "encoding": {"y": {"field": "v", "type": "quantitative", "scale": {"domain": [39.55, 225.65], "nice": false, "zero": false}}, "text": {"field": "t"}}},
{"data": {"name": "txt"}, "transform": [{"filter": {"field": "g", "equal": "legR"}}], "mark": {"type": "text", "align": "left", "baseline": "middle", "fontSize": 12, "color": "#FF0000"},
 "encoding": {"y": {"field": "v", "type": "quantitative", "scale": {"domain": [39.55, 225.65], "nice": false, "zero": false}}, "text": {"field": "t"}}},
{"data": {"name": "txt"}, "transform": [{"filter": {"field": "g", "equal": "legB"}}], "mark": {"type": "text", "align": "left", "baseline": "middle", "fontSize": 12, "color": "#0000FF"},
 "encoding": {"y": {"field": "v", "type": "quantitative", "scale": {"domain": [39.55, 225.65], "nice": false, "zero": false}}, "text": {"field": "t"}}},
{"data": {"values": [{"d": "2023-01-13", "d2": "2023-04-22", "v": 196.55, "v2": 189.93}]}, "mark": {"type": "rect", "color": "#008000", "clip": false},
 "encoding": {"x2": {"field": "d2"}, "y": {"field": "v", "type": "quantitative", "scale": {"domain": [39.55, 225.65], "nice": false, "zero": false}}, "y2": {"field": "v2"}}},
{"data": {"values": [{"d": "2023-01-13", "d2": "2023-04-22", "v": 96.57, "v2": 89.96}]}, "mark": {"type": "rect", "color": "#3B7DE8", "clip": false},
 "encoding": {"x2": {"field": "d2"}, "y": {"field": "v", "type": "quantitative", "scale": {"domain": [39.55, 225.65], "nice": false, "zero": false}}, "y2": {"field": "v2"}}},
{"data": {"values": [{"d": "2023-01-13", "d2": "2023-04-22", "v": 44.84, "v2": 38.67}]}, "mark": {"type": "rect", "color": "#C00000", "clip": false},
 "encoding": {"x2": {"field": "d2"}, "y": {"field": "v", "type": "quantitative", "scale": {"domain": [39.55, 225.65], "nice": false, "zero": false}}, "y2": {"field": "v2"}}},
{"data": {"name": "txt"}, "transform": [{"filter": {"field": "g", "equal": "badge"}}], "mark": {"type": "text", "align": "left", "baseline": "middle", "fontSize": 11, "color": "#FFFFFF", "clip": false},
 "encoding": {"y": {"field": "v", "type": "quantitative", "scale": {"domain": [39.55, 225.65], "nice": false, "zero": false}}, "text": {"field": "t"}}}
]
},
{
"width": 800, "height": 134,
"encoding": {"x": {"field": "d", "type": "temporal", "scale": {"type": "utc", "domain": [{"year": 2017, "month": 12, "date": 16, "utc": true}, {"year": 2023, "month": 1, "date": 8, "utc": true}]},
  "axis": {"values": [{"year": 2018, "month": 7, "date": 1, "utc": true}, {"year": 2019, "month": 1, "date": 1, "utc": true}, {"year": 2019, "month": 7, "date": 1, "utc": true}, {"year": 2020, "month": 1, "date": 1, "utc": true}, {"year": 2020, "month": 7, "date": 1, "utc": true}, {"year": 2021, "month": 1, "date": 1, "utc": true}, {"year": 2021, "month": 7, "date": 1, "utc": true}, {"year": 2022, "month": 1, "date": 1, "utc": true}, {"year": 2022, "month": 7, "date": 1, "utc": true}],
   "format": "%m/%Y", "labelFontWeight": "bold", "labelFontSize": 11, "labelColor": "#222222", "domain": false, "ticks": false, "grid": false, "labelPadding": 6, "labelFlush": false, "labelOverlap": false, "title": null}}},
"layer": [
{"data": {"values": [{"d": "2017-12-16", "d2": "2023-01-08", "v": 50, "v2": 100}]}, "mark": {"type": "rect", "color": "#FDD68C"},
 "encoding": {"x2": {"field": "d2"}, "y": {"field": "v", "type": "quantitative", "scale": {"domain": [0, 100], "nice": false, "zero": false},
   "axis": {"orient": "right", "values": [0, 40, 80], "labelExpr": "datum.value == 0 ? '0.0000' : format(datum.value, '.2f')", "domain": false, "ticks": false, "grid": false, "labelPadding": 5, "labelFontSize": 11, "labelColor": "#111111", "labelOffset": -1, "title": null}},
  "y2": {"field": "v2"}}},
{"data": {"values": [{"d": "2017-12-16", "d2": "2023-01-08", "v": 0, "v2": 50}]}, "mark": {"type": "rect", "color": "#D8EA90"},
 "encoding": {"x2": {"field": "d2"}, "y": {"field": "v", "type": "quantitative", "scale": {"domain": [0, 100], "nice": false, "zero": false}}, "y2": {"field": "v2"}}},
{"data": {"values": [{"d": "2017-12-16", "d2": "2023-01-08", "v": 50}]}, "mark": {"type": "rule", "color": "#4E6B2E", "strokeWidth": 1},
 "encoding": {"x2": {"field": "d2"}, "y": {"field": "v", "type": "quantitative", "scale": {"domain": [0, 100], "nice": false, "zero": false}}}},
{"data": {"name": "rsi"}, "mark": {"type": "line", "color": "#1414E0", "strokeWidth": 2.5},
 "encoding": {"y": {"field": "v", "type": "quantitative", "scale": {"domain": [0, 100], "nice": false, "zero": false}}}},
{"data": {"values": [{"d": "2017-12-27", "v": 92.5, "t": "RSI (21)"}]}, "mark": {"type": "text", "align": "left", "baseline": "middle", "fontSize": 12, "color": "#1010E0"},
 "encoding": {"y": {"field": "v", "type": "quantitative", "scale": {"domain": [0, 100], "nice": false, "zero": false}}, "text": {"field": "t"}}},
{"data": {"values": [{"d": "2023-01-13", "d2": "2023-04-22", "v": 41.3, "v2": 29.3}]}, "mark": {"type": "rect", "color": "#0000FF", "clip": false},
 "encoding": {"x2": {"field": "d2"}, "y": {"field": "v", "type": "quantitative", "scale": {"domain": [0, 100], "nice": false, "zero": false}}, "y2": {"field": "v2"}}},
{"data": {"values": [{"d": "2023-01-20", "v": 35.3, "t": "31.55"}]}, "mark": {"type": "text", "align": "left", "baseline": "middle", "fontSize": 11, "color": "#FFFFFF", "clip": false},
 "encoding": {"y": {"field": "v", "type": "quantitative", "scale": {"domain": [0, 100], "nice": false, "zero": false}}, "text": {"field": "t"}}}
]
}
]
}
